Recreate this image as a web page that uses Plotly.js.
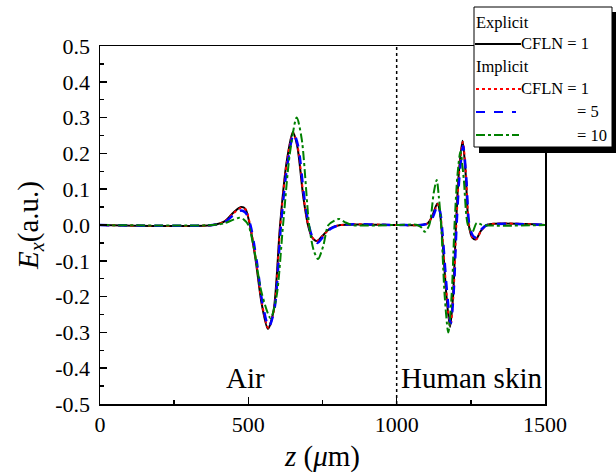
<!DOCTYPE html>
<html>
<head>
<meta charset="utf-8">
<script src="https://cdn.plot.ly/plotly-3.0.1.min.js"></script>
<style>html,body{margin:0;padding:0;background:#fff;}</style>
</head>
<body>
<div id="chart" style="width:616px;height:475px;"></div>
<script>
// ---- Data ----
const zExplicit1 = [0, 380, 420, 450, 475, 490, 505, 525, 545, 566, 585, 607, 628, 650, 665, 685, 701, 715, 730, 750, 775, 810, 1000,
  1080, 1105, 1120, 1137, 1145, 1155, 1168, 1180, 1190, 1200, 1210, 1222, 1232, 1243, 1255, 1267, 1285, 1305, 1500];
const eExplicit1 = [0, 0, 0.01, 0.035, 0.05, 0.045, 0.0, -0.1, -0.22, -0.29, -0.24, 0.0, 0.17, 0.26, 0.22, 0.08, 0.0, -0.035, -0.045, -0.03, -0.01, 0, 0,
  0, 0.005, 0.025, 0.06, 0.04, -0.05, -0.2, -0.285, -0.2, 0.0, 0.15, 0.235, 0.15, 0.0, -0.035, -0.04, -0.015, 0, 0];

const zImplicit1 = [0, 380, 420, 450, 476, 491, 506, 526, 546, 567, 586, 608, 629, 651, 666, 686, 702, 716, 731, 751, 776, 810, 1000,
  1080, 1105, 1121, 1138, 1146, 1156, 1169, 1181, 1191, 1201, 1211, 1223, 1233, 1244, 1256, 1268, 1286, 1305, 1500];
const eImplicit1 = [0, 0, 0.01, 0.033, 0.048, 0.043, 0.0, -0.1, -0.22, -0.287, -0.24, 0.0, 0.17, 0.257, 0.22, 0.08, 0.0, -0.035, -0.045, -0.03, -0.01, 0, 0,
  0, 0.005, 0.024, 0.058, 0.04, -0.05, -0.2, -0.282, -0.2, 0.0, 0.15, 0.232, 0.15, 0.0, -0.035, -0.04, -0.015, 0, 0];

const zImplicit5 = [0, 380, 420, 450, 472, 490, 507, 528, 548, 569, 588, 610, 631, 653, 668, 688, 704, 718, 733, 753, 778, 812, 1000,
  1080, 1106, 1122, 1138, 1147, 1157, 1170, 1182, 1192, 1202, 1212, 1224, 1234, 1245, 1257, 1268, 1286, 1305, 1500];
const eImplicit5 = [0, 0, 0.008, 0.028, 0.04, 0.035, 0.0, -0.1, -0.22, -0.285, -0.235, 0.0, 0.165, 0.255, 0.22, 0.08, 0.0, -0.038, -0.05, -0.032, -0.01, 0, 0,
  0, 0.004, 0.022, 0.055, 0.035, -0.05, -0.19, -0.275, -0.19, 0.0, 0.14, 0.22, 0.14, 0.0, -0.03, -0.035, -0.012, 0, 0];

const zImplicit10 = [0, 380, 420, 450, 470, 485, 500, 520, 545, 575, 595, 617, 640, 663, 680, 705, 720, 735, 752, 770, 790, 806, 825, 850, 1000,
  1070, 1085, 1095, 1110, 1125, 1135, 1142, 1150, 1162, 1174, 1185, 1195, 1205, 1215, 1226, 1240, 1255, 1270, 1290, 1500];
const eImplicit10 = [0, 0, 0.005, 0.015, 0.02, 0.015, 0.0, -0.07, -0.19, -0.26, -0.2, 0.0, 0.2, 0.30, 0.24, 0.0, -0.07, -0.095, -0.06, 0.0, 0.012, 0.017, 0.008, 0, 0,
  0, -0.008, -0.019, 0.0, 0.09, 0.126, 0.08, 0.0, -0.2, -0.30, -0.2, 0.0, 0.14, 0.205, 0.13, 0.0, -0.02, 0.006, 0, 0];

const xTickVals = [0, 500, 1000, 1500];
const xTickText = ['0', '500', '1000', '1500'];
const yTickVals = [-0.5, -0.4, -0.3, -0.2, -0.1, 0, 0.1, 0.2, 0.3, 0.4, 0.5];
const yTickText = ['-0.5', '-0.4', '-0.3', '-0.2', '-0.1', '0.0', '0.1', '0.2', '0.3', '0.4', '0.5'];

const airLabel = "Air";
const skinLabel = "Human skin";
const interfaceZ = 1000;

// ---- Traces ----
const FONT = "Liberation Serif";
const traces = [
  {x: zExplicit1, y: eExplicit1, mode: 'lines', line: {color: '#000000', width: 2, shape: 'spline', smoothing: 0.8}, name: 'Explicit CFLN = 1'},
  {x: zImplicit1, y: eImplicit1, mode: 'lines', line: {color: '#ff0000', width: 2, dash: 'dot', shape: 'spline', smoothing: 0.8}, name: 'Implicit CFLN = 1'},
  {x: zImplicit5, y: eImplicit5, mode: 'lines', line: {color: '#0000ff', width: 2.5, dash: 'dash', shape: 'spline', smoothing: 0.8}, name: '= 5'},
  {x: zImplicit10, y: eImplicit10, mode: 'lines', line: {color: '#008000', width: 2, dash: 'dashdot', shape: 'spline', smoothing: 0.8}, name: '= 10'}
];

// ---- Layout geometry (pixels -> paper) ----
const W = 616, H = 475, L = 100, R = 71, T = 46, B = 71;
const pw = W - L - R, ph = H - T - B;
const px = v => (v - L) / pw;
const py = v => (H - B - v) / ph;

const shapes = [
  {type: 'line', xref: 'x', yref: 'y', x0: interfaceZ, x1: interfaceZ, y0: -0.5, y1: 0.5, line: {color: '#000', width: 1.5, dash: 'dot'}, layer: 'below'},
  {type: 'rect', xref: 'paper', yref: 'paper', x0: px(479), x1: px(616), y0: py(153), y1: py(12), fillcolor: '#000', line: {width: 0}, layer: 'above'},
  {type: 'rect', xref: 'paper', yref: 'paper', x0: px(474), x1: px(612), y0: py(147), y1: py(7), fillcolor: '#fff', line: {color: '#000', width: 1}, layer: 'above'},
  {type: 'line', xref: 'paper', yref: 'paper', x0: px(475), x1: px(521), y0: py(44), y1: py(44), line: {color: '#000', width: 2}, layer: 'above'},
  {type: 'line', xref: 'paper', yref: 'paper', x0: px(476), x1: px(521), y0: py(89), y1: py(89), line: {color: '#ff0000', width: 2, dash: 'dot'}, layer: 'above'},
  {type: 'line', xref: 'paper', yref: 'paper', x0: px(476), x1: px(516), y0: py(112), y1: py(112), line: {color: '#0000ff', width: 2, dash: 'dash'}, layer: 'above'},
  {type: 'line', xref: 'paper', yref: 'paper', x0: px(476), x1: px(519), y0: py(135), y1: py(135), line: {color: '#008000', width: 2, dash: 'dashdot'}, layer: 'above'}
];

const legFont = {family: FONT, size: 16.5, color: '#000'};
const ann = (text, x, y, xanchor, font) => ({text, xref: 'paper', yref: 'paper', x: px(x), y: py(y), xanchor, yanchor: 'middle', showarrow: false, font: font || legFont});
const bigFont = {family: FONT, size: 29, color: '#000'};
const annotations = [
  ann('Explicit', 474, 22, 'left'),
  ann('CFLN = 1', 519, 44, 'left'),
  ann('Implicit', 474, 66, 'left'),
  ann('CFLN = 1', 519, 89, 'left'),
  ann('= 5', 575, 112, 'left'),
  ann('= 10', 575, 135, 'left'),
  {text: airLabel, xref: 'x', yref: 'paper', x: 490, y: py(378), xanchor: 'center', yanchor: 'middle', showarrow: false, font: bigFont},
  {text: skinLabel, xref: 'x', yref: 'paper', x: 1252, y: py(378), xanchor: 'center', yanchor: 'middle', showarrow: false, font: bigFont}
];

const layout = {
  width: W, height: H,
  margin: {l: L, r: R, t: T, b: B, pad: 0},
  paper_bgcolor: '#fff', plot_bgcolor: '#fff',
  showlegend: false,
  font: {family: FONT, size: 22, color: '#000'},
  xaxis: {
    range: [0, 1500], tickvals: xTickVals, ticktext: xTickText,
    ticks: 'inside', ticklen: 7, tickwidth: 1.5, tickcolor: '#000',
    minor: {tickvals: [250, 750, 1250], ticks: 'inside', ticklen: 4, tickwidth: 1.5, tickcolor: '#000'},
    showline: true, linecolor: '#000', linewidth: 1.5, mirror: true,
    showgrid: false, zeroline: false,
    tickfont: {family: FONT, size: 22, color: '#000'},
    title: {text: '<i>z</i> (<i>μ</i>m)', font: {family: FONT, size: 29}, standoff: 10}
  },
  yaxis: {
    range: [-0.5, 0.5], tickvals: yTickVals, ticktext: yTickText,
    ticks: 'inside', ticklen: 7, tickwidth: 1.5, tickcolor: '#000',
    minor: {dtick: 0.05, tick0: 0, ticks: 'inside', ticklen: 4, tickwidth: 1.5, tickcolor: '#000'},
    showline: true, linecolor: '#000', linewidth: 1.5, mirror: true,
    showgrid: false, zeroline: false,
    tickfont: {family: FONT, size: 22, color: '#000'},
    ticklabelstandoff: 4,
    title: {text: '<i>E<sub>x</sub></i>(a.u.)', font: {family: FONT, size: 29}, standoff: 8}
  },
  shapes, annotations
};

Plotly.newPlot('chart', traces, layout, {staticPlot: true, displayModeBar: false});
</script>
</body>
</html>
